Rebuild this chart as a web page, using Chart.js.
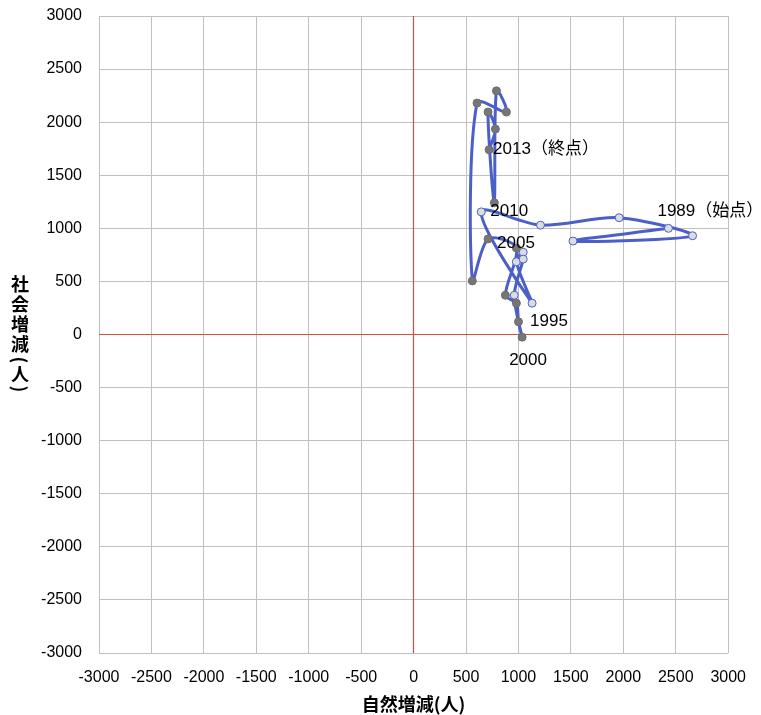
<!DOCTYPE html>
<html lang="ja">
<head>
<meta charset="utf-8">
<title>自然増減と社会増減の推移</title>
<script src="https://cdn.jsdelivr.net/npm/chart.js@4.4.1/dist/chart.umd.min.js"></script>
<style>
  html, body { margin: 0; padding: 0; background: #ffffff; }
  #wrap { position: relative; width: 761px; height: 715px; }
</style>
</head>
<body>
<div id="wrap"><canvas id="chart" width="761" height="715"></canvas></div>
<script>
// 年次
const years = [1989, 1990, 1991, 1992, 1993, 1994, 1995, 1996, 1997, 1998, 1999,
               2000, 2001, 2002, 2003, 2004, 2005, 2006, 2007, 2008, 2009,
               2010, 2011, 2012, 2013];
// 自然増減（人）
const naturalChange = [2430, 1520, 2660, 1960, 1210, 645, 1130, 980, 1045, 1045, 960,
                       1035, 1000, 980, 875, 980, 710, 560, 605, 885, 790,
                       770, 710, 780, 720];
// 社会増減（人）
const socialChange = [1000, 880, 930, 1100, 1030, 1155, 295, 685, 775, 710, 370,
                      -25, 120, 295, 370, 815, 900, 505, 2180, 2095, 2295,
                      1240, 2095, 1935, 1740];
// 軸の目盛り
const tickValues = [-3000, -2500, -2000, -1500, -1000, -500, 0, 500, 1000, 1500, 2000, 2500, 3000];
// 注記を付ける年と文字
const labelYears = [1989, 1995, 2000, 2005, 2010, 2013];
const labelTexts = ['1989（始点）', '1995', '2000', '2005', '2010', '2013（終点）'];

// 注記の位置（点からのずれ、px）
const labelOffsets = {
  1989: [-11, -17],
  1995: [-2, 18],
  2000: [-13, 23],
  2005: [9, 4],
  2010: [-4, 8],
  2013: [4, 0]
};

const points = years.map((y, i) => ({ x: naturalChange[i], y: socialChange[i] }));
const lineBlue = '#4a60c8';
const axisRed = '#d0503a';
const markerFill = years.map(y => (y < 2000 ? '#dcdcdc' : '#767676'));
const markerEdge = years.map(y => (y < 2000 ? '#4a60c8' : '#6e6e6e'));

const tickFont = { family: '"Liberation Sans", Arial, sans-serif', size: 16 };
const plainNumber = v => String(v);
const gridColor = ctx => (ctx.tick && ctx.tick.value === 0 ? axisRed : '#c0c0c0');
const crisp = p => Math.round(p - 0.5) + 0.5;

// 原点を通る赤い軸線
const zeroLines = {
  id: 'zeroLines',
  beforeDatasetsDraw(chart) {
    const { ctx, chartArea: a, scales } = chart;
    const x0 = crisp(scales.x.getPixelForValue(0));
    const y0 = crisp(scales.y.getPixelForValue(0));
    ctx.save();
    ctx.strokeStyle = axisRed;
    ctx.lineWidth = 1.2;
    ctx.beginPath();
    ctx.moveTo(x0, a.top);
    ctx.lineTo(x0, a.bottom);
    ctx.moveTo(a.left, y0);
    ctx.lineTo(a.right, y0);
    ctx.stroke();
    ctx.restore();
  }
};

// 年の注記と軸タイトル
const annotate = {
  id: 'annotate',
  afterDatasetsDraw(chart) {
    const ctx = chart.ctx;
    const meta = chart.getDatasetMeta(0);
    ctx.save();
    ctx.fillStyle = '#000000';
    ctx.font = '17px "Liberation Sans", "Noto Sans CJK JP", sans-serif';
    ctx.textAlign = 'left';
    ctx.textBaseline = 'middle';
    labelYears.forEach((yr, k) => {
      const el = meta.data[years.indexOf(yr)];
      const off = labelOffsets[yr];
      ctx.fillText(labelTexts[k], el.x + off[0], el.y + off[1]);
    });
    ctx.restore();
  },
  afterDraw(chart) {
    const ctx = chart.ctx;
    ctx.save();
    ctx.fillStyle = '#000000';
    ctx.font = 'bold 18px "Noto Sans CJK JP", sans-serif';
    ctx.textAlign = 'center';
    ctx.textBaseline = 'middle';
    // 横軸タイトル
    ctx.fillText('自然増減(人)', chart.scales.x.getPixelForValue(0), 704);
    // 縦軸タイトル（縦書き、括弧は横に倒す）
    const chars = ['社', '会', '増', '減', '(', '人', ')'];
    const ys = [284, 304, 324, 344, 360, 374, 389];
    chars.forEach((c, i) => {
      if (c === '(' || c === ')') {
        ctx.save();
        ctx.translate(20, ys[i]);
        ctx.rotate(Math.PI / 2);
        ctx.fillText(c, 0, 0);
        ctx.restore();
      } else {
        ctx.fillText(c, 20, ys[i]);
      }
    });
    ctx.restore();
  }
};

new Chart(document.getElementById('chart'), {
  type: 'scatter',
  data: {
    datasets: [{
      label: '自然増減・社会増減',
      data: points,
      showLine: true,
      tension: 0.3,
      borderColor: lineBlue,
      borderWidth: 3,
      pointRadius: 4,
      pointHoverRadius: 4,
      pointBorderWidth: 1,
      pointBackgroundColor: markerFill,
      pointBorderColor: markerEdge
    }]
  },
  options: {
    responsive: false,
    animation: false,
    layout: { padding: { top: 16, right: 31, left: 0, bottom: 0 } },
    plugins: {
      legend: { display: false },
      tooltip: { enabled: false }
    },
    scales: {
      x: {
        type: 'linear',
        min: -3000,
        max: 3000,
        afterBuildTicks(scale) { scale.ticks = tickValues.map(v => ({ value: v })); },
        afterFit(scale) { scale.height = 62; },
        border: { display: false },
        grid: { color: gridColor, lineWidth: 1, drawTicks: false },
        ticks: { color: '#000000', font: tickFont, padding: 15, maxRotation: 0, autoSkip: false, callback: plainNumber }
      },
      y: {
        type: 'linear',
        min: -3000,
        max: 3000,
        afterBuildTicks(scale) { scale.ticks = tickValues.map(v => ({ value: v })); },
        afterFit(scale) {
          scale.width = 99;
          scale.paddingTop = 0;
          scale.paddingBottom = 0;
        },
        border: { display: false },
        grid: { color: gridColor, lineWidth: 1, drawTicks: false },
        ticks: { color: '#000000', font: tickFont, padding: 17, autoSkip: false, callback: plainNumber }
      }
    }
  },
  plugins: [zeroLines, annotate]
});
</script>
</body>
</html>
